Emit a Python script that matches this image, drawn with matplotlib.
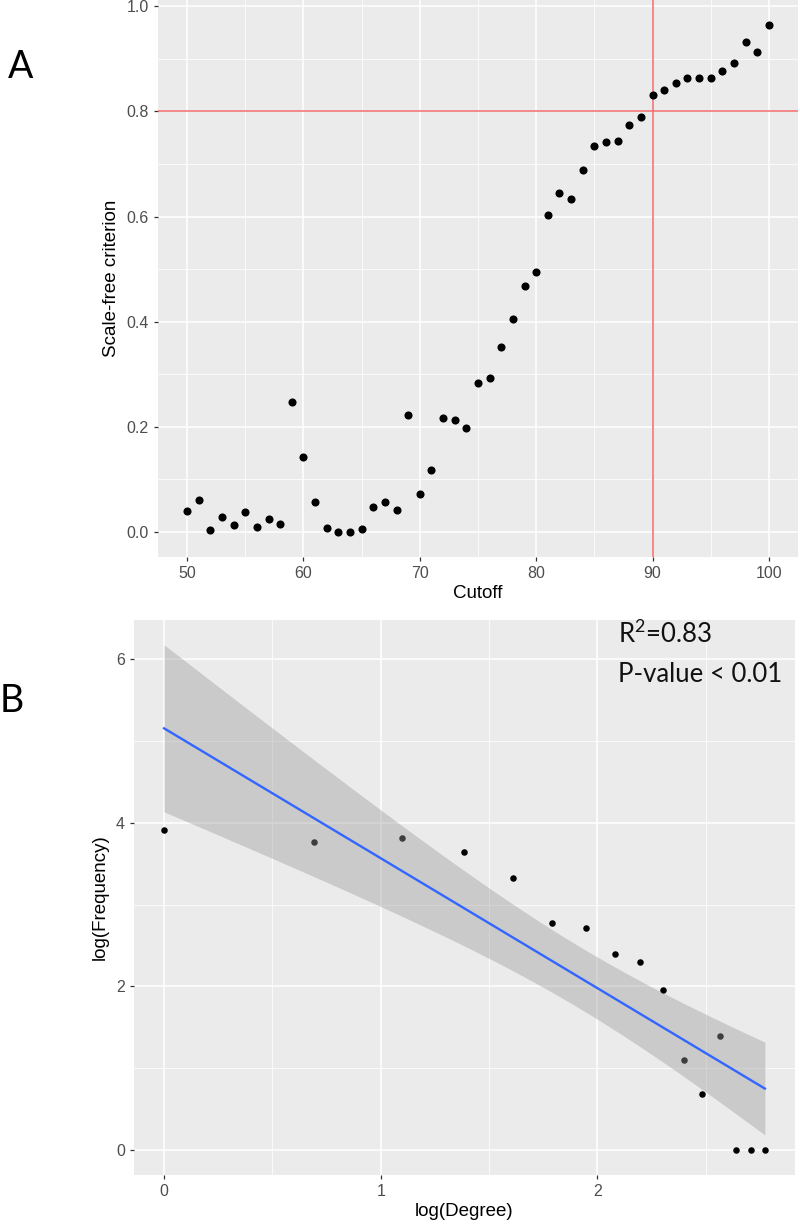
import numpy as np
import matplotlib
matplotlib.use("Agg")
import matplotlib.pyplot as plt
from matplotlib.ticker import MultipleLocator

# ---------------- Data ----------------
# Panel A: scale-free criterion vs cutoff
cutoff = list(range(50, 101))
scale_free = [0.040, 0.060, 0.003, 0.028, 0.013, 0.038, 0.010, 0.025, 0.014, 0.247,
              0.142, 0.057, 0.007, 0.000, 0.000, 0.005, 0.047, 0.057, 0.042, 0.222,
              0.072, 0.117, 0.217, 0.212, 0.197, 0.284, 0.292, 0.352, 0.404, 0.467,
              0.495, 0.603, 0.644, 0.634, 0.689, 0.735, 0.742, 0.744, 0.775, 0.790,
              0.832, 0.841, 0.855, 0.863, 0.863, 0.863, 0.876, 0.893, 0.933, 0.913,
              0.964]
cutoff_line = 90
criterion_line = 0.8

# Panel B: log(Frequency) vs log(Degree)
log_degree = [0.000, 0.693, 1.099, 1.386, 1.609, 1.792, 1.946, 2.079,
              2.197, 2.303, 2.398, 2.485, 2.565, 2.639, 2.708, 2.773]
log_freq = [3.91, 3.77, 3.81, 3.64, 3.32, 2.77, 2.71, 2.40,
            2.30, 1.95, 1.10, 0.69, 1.39, 0.00, 0.00, 0.00]
annot_r2 = "R$^2$=0.83"
annot_p = "P-value < 0.01"

# ---------------- Style ----------------
BG = "#EBEBEB"
TICK_COL = "#4D4D4D"
RED = "#F06A6A"
plt.rcParams['font.family'] = ['Liberation Sans', 'DejaVu Sans']
plt.rcParams['mathtext.fontset'] = 'custom'
plt.rcParams['mathtext.rm'] = 'Lato'

fig = plt.figure(figsize=(8, 12.28), dpi=100)


def gg_axes(ax):
    ax.set_facecolor(BG)
    for s in ax.spines.values():
        s.set_visible(False)
    ax.grid(True, which='major', color='white', linewidth=1.1, zorder=0)
    ax.grid(True, which='minor', color='white', linewidth=0.55, zorder=0)
    ax.set_axisbelow(True)
    ax.tick_params(which='major', length=3, width=0.9, color='#333333',
                   labelcolor=TICK_COL, labelsize=11.5, pad=3.5)
    ax.tick_params(which='minor', length=0)


# ---------------- Panel A ----------------
axA = fig.add_axes([0.1975, 0.5464, 0.80, 0.4536])
gg_axes(axA)
axA.scatter(cutoff, scale_free, s=34, color='black', zorder=3, linewidths=0)
axA.axhline(criterion_line, color=RED, linewidth=1.1, zorder=2)
axA.axvline(cutoff_line, color=RED, linewidth=1.1, zorder=2)
axA.set_xlim(47.5, 102.5)
axA.set_ylim(-0.048, 1.012)
axA.set_xticks([50, 60, 70, 80, 90, 100])
axA.xaxis.set_minor_locator(MultipleLocator(5))
axA.set_yticks([0.0, 0.2, 0.4, 0.6, 0.8, 1.0])
axA.set_yticklabels(["0.0", "0.2", "0.4", "0.6", "0.8", "1.0"])
axA.yaxis.set_minor_locator(MultipleLocator(0.1))
axA.set_xlabel("Cutoff", fontsize=13.5, labelpad=3)
axA.set_ylabel("Scale-free criterion", fontsize=13.5, labelpad=5)

# ---------------- Panel B ----------------
axB = fig.add_axes([0.1675, 0.0432, 0.82625, 0.4519])
gg_axes(axB)
x = np.array(log_degree)
y = np.array(log_freq)
axB.scatter(x, y, s=22, color='black', zorder=3, linewidths=0)

# linear model with 95% confidence band (as geom_smooth(method='lm'))
slope, intercept = np.polyfit(x, y, 1)
n = len(x)
resid = y - (slope * x + intercept)
s_err = np.sqrt(np.sum(resid ** 2) / (n - 2))
sxx = np.sum((x - x.mean()) ** 2)
xs = np.linspace(x.min(), x.max(), 80)
ys = slope * xs + intercept
t_crit = 2.144787  # t(0.975, df=14)
half = t_crit * s_err * np.sqrt(1.0 / n + (xs - x.mean()) ** 2 / sxx)
axB.fill_between(xs, ys - half, ys + half, color='#999999', alpha=0.4,
                 linewidth=0, zorder=4)
axB.plot(xs, ys, color='#3366FF', linewidth=1.7, zorder=5)

axB.set_xlim(-0.139, 2.912)
axB.set_ylim(-0.306, 6.48)
axB.set_xticks([0, 1, 2])
axB.xaxis.set_minor_locator(MultipleLocator(0.5))
axB.set_yticks([0, 2, 4, 6])
axB.yaxis.set_minor_locator(MultipleLocator(1))
axB.set_xlabel("log(Degree)", fontsize=13.5, labelpad=3)
axB.set_ylabel("log(Frequency)", fontsize=13.5, labelpad=5)

# annotation (pixel placement converted to axes fraction)
ax_left_px, ax_w_px = 0.1675 * 800, 0.82625 * 800
ax_bot_px, ax_h_px = 0.0432 * 1228, 0.4519 * 1228
tx = (618 - ax_left_px) / ax_w_px
axB.text(tx, (1228 - 643 - ax_bot_px) / ax_h_px, annot_r2, transform=axB.transAxes,
         fontsize=18.5, family=['Lato', 'DejaVu Sans'], va='baseline', ha='left',
         zorder=6, color='#111111')
axB.text(tx, (1228 - 682 - ax_bot_px) / ax_h_px, annot_p, transform=axB.transAxes,
         fontsize=18.5, family=['Lato', 'DejaVu Sans'], va='baseline', ha='left',
         zorder=6, color='#111111')

# Panel letters
fig.text(8 / 800, 1 - 78 / 1228, "A", fontsize=27, family=['Lato', 'DejaVu Sans'],
         va='baseline', ha='left')
fig.text(0 / 800, 1 - 712 / 1228, "B", fontsize=27, family=['Lato', 'DejaVu Sans'],
         va='baseline', ha='left')

fig.savefig("out.png", dpi=100, facecolor='white')
